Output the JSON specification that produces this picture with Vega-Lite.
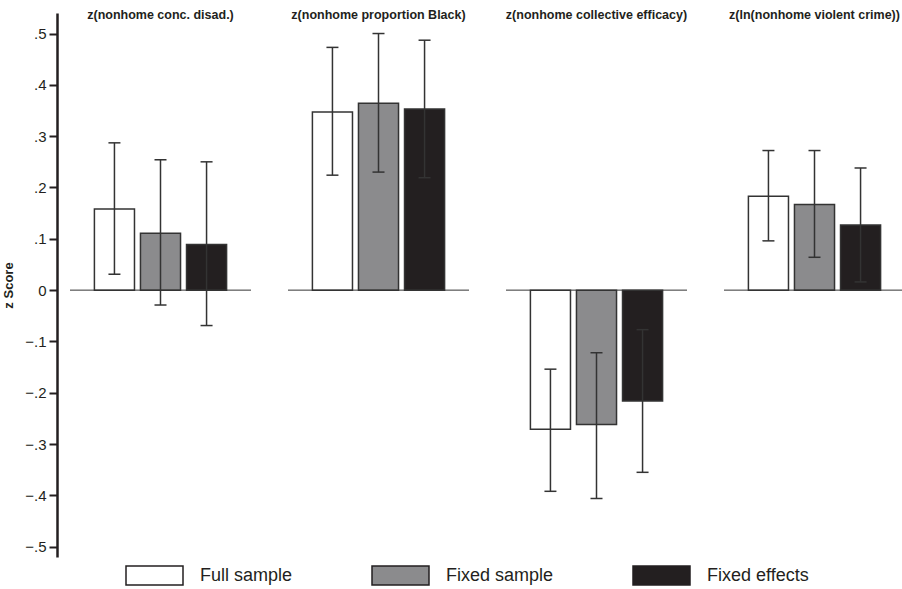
{
  "$schema": "https://vega.github.io/schema/vega-lite/v6.json",
  "background": "white",
  "padding": {"left": 2, "top": 8, "right": 0, "bottom": 5},
  "config": {"font": "Liberation Sans", "view": {"stroke": null}},
  "data": {"values": [
    {"variable": "z(nonhome conc. disad.)", "group": "Full sample", "mean": 0.158, "lo": 0.031, "hi": 0.287},
    {"variable": "z(nonhome conc. disad.)", "group": "Fixed sample", "mean": 0.111, "lo": -0.029, "hi": 0.254},
    {"variable": "z(nonhome conc. disad.)", "group": "Fixed effects", "mean": 0.089, "lo": -0.069, "hi": 0.250},
    {"variable": "z(nonhome proportion Black)", "group": "Full sample", "mean": 0.347, "lo": 0.224, "hi": 0.473},
    {"variable": "z(nonhome proportion Black)", "group": "Fixed sample", "mean": 0.364, "lo": 0.230, "hi": 0.500},
    {"variable": "z(nonhome proportion Black)", "group": "Fixed effects", "mean": 0.353, "lo": 0.219, "hi": 0.487},
    {"variable": "z(nonhome collective efficacy)", "group": "Full sample", "mean": -0.271, "lo": -0.392, "hi": -0.154},
    {"variable": "z(nonhome collective efficacy)", "group": "Fixed sample", "mean": -0.262, "lo": -0.406, "hi": -0.122},
    {"variable": "z(nonhome collective efficacy)", "group": "Fixed effects", "mean": -0.216, "lo": -0.355, "hi": -0.077},
    {"variable": "z(ln(nonhome violent crime))", "group": "Full sample", "mean": 0.183, "lo": 0.096, "hi": 0.272},
    {"variable": "z(ln(nonhome violent crime))", "group": "Fixed sample", "mean": 0.167, "lo": 0.064, "hi": 0.272},
    {"variable": "z(ln(nonhome violent crime))", "group": "Fixed effects", "mean": 0.127, "lo": 0.016, "hi": 0.238}
  ]},
  "facet": {
    "column": {
      "field": "variable", "type": "nominal",
      "sort": ["z(nonhome conc. disad.)", "z(nonhome proportion Black)", "z(nonhome collective efficacy)", "z(ln(nonhome violent crime))"],
      "header": {"title": null, "labelFontSize": 12.5, "labelFontWeight": "bold", "labelColor": "#231f20", "labelPadding": -8}
    }
  },
  "spacing": 35,
  "spec": {
    "width": 181,
    "height": 544,
    "layer": [
      {
        "mark": {"type": "bar", "stroke": "#333333", "strokeWidth": 1.5},
        "encoding": {
          "x": {"field": "group", "type": "nominal", "sort": ["Full sample", "Fixed sample", "Fixed effects"], "axis": null,
                "scale": {"paddingInner": 0.13, "paddingOuter": 0.53}},
          "y": {"field": "mean", "type": "quantitative",
                "scale": {"domain": [-0.52, 0.54], "nice": false, "zero": false},
                "axis": {
                  "values": [-0.5, -0.4, -0.3, -0.2, -0.1, 0, 0.1, 0.2, 0.3, 0.4, 0.5],
                  "labelExpr": "datum.value == 0 ? '0' : replace(format(datum.value, '.1f'), '0.', '.')",
                  "grid": false, "offset": 12,
                  "domainColor": "#231f20", "domainWidth": 2.5,
                  "tickColor": "#231f20", "tickWidth": 2, "tickSize": 8,
                  "labelFontSize": 15, "labelColor": "#231f20", "labelPadding": 3,
                  "title": "z Score", "titleFontSize": 13, "titleFontWeight": "bold", "titleColor": "#231f20", "titlePadding": 9
                }},
          "color": {"field": "group", "type": "nominal",
                    "sort": ["Full sample", "Fixed sample", "Fixed effects"],
                    "scale": {"domain": ["Full sample", "Fixed sample", "Fixed effects"], "range": ["#ffffff", "#8b8b8d", "#231f20"]},
                    "legend": {
                      "title": null, "orient": "none", "legendX": 74, "legendY": 552, "direction": "horizontal", "columns": 3, "padding": 0,
                      "symbolType": "M-3,-1L3,-1L3,1L-3,1Z", "symbolSize": 361,
                      "symbolStrokeColor": "#231f20", "symbolStrokeWidth": 1.5, "symbolOpacity": 1,
                      "labelFontSize": 18, "labelColor": "#231f20", "labelOffset": 35, "columnPadding": 76
                    }}
        }
      },
      {
        "transform": [{"filter": "datum.group === 'Full sample'"}],
        "mark": {"type": "rule", "color": "#333333", "strokeWidth": 1},
        "encoding": {"y": {"datum": 0, "type": "quantitative"}}
      },
      {
        "mark": {"type": "rule", "color": "#333333", "strokeWidth": 1.5},
        "encoding": {
          "x": {"field": "group", "type": "nominal", "sort": ["Full sample", "Fixed sample", "Fixed effects"]},
          "y": {"field": "lo", "type": "quantitative"},
          "y2": {"field": "hi"}
        }
      },
      {
        "mark": {"type": "tick", "color": "#333333", "thickness": 1.5, "size": 12, "orient": "horizontal", "opacity": 1},
        "encoding": {
          "x": {"field": "group", "type": "nominal", "sort": ["Full sample", "Fixed sample", "Fixed effects"]},
          "y": {"field": "lo", "type": "quantitative"}
        }
      },
      {
        "mark": {"type": "tick", "color": "#333333", "thickness": 1.5, "size": 12, "orient": "horizontal", "opacity": 1},
        "encoding": {
          "x": {"field": "group", "type": "nominal", "sort": ["Full sample", "Fixed sample", "Fixed effects"]},
          "y": {"field": "hi", "type": "quantitative"}
        }
      }
    ]
  }
}
